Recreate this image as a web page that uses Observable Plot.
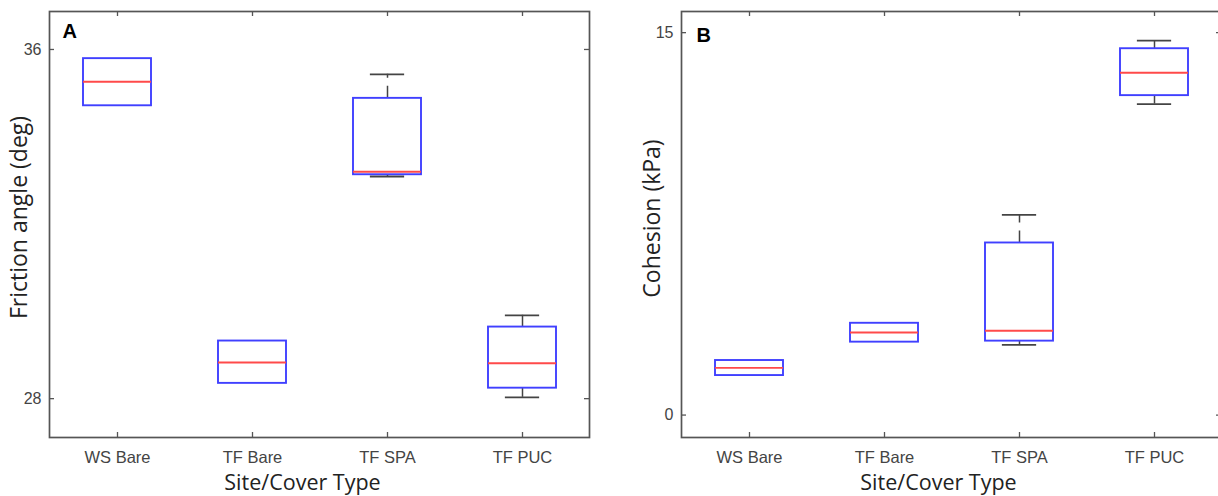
<!DOCTYPE html>
<html><head><meta charset="utf-8">
<script src="https://cdn.jsdelivr.net/npm/d3@7"></script>
<script src="https://cdn.jsdelivr.net/npm/@observablehq/plot@0.6"></script>
<style>
html,body{margin:0;padding:0;background:#fff;overflow:hidden;width:1218px;height:496px}
#wrap{position:relative;width:1218px;height:496px;overflow:hidden;background:#fff}
#a{position:absolute;left:0;top:0;width:609px}
#b{position:absolute;left:609px;top:0;width:620px}
#wrap svg{max-width:none !important}
</style></head><body><div id="wrap"><div id="a"></div><div id="b"></div></div>
<script>
const categories = ["WS Bare", "TF Bare", "TF SPA", "TF PUC"];

// Panel A: friction angle (deg)
const frictionLow    = [34.71, 28.35, 33.09, 28.03];
const frictionQ1     = [34.71, 28.35, 33.13, 28.24];
const frictionMedian = [35.26, 28.83, 33.20, 28.81];
const frictionQ3     = [35.79, 29.32, 34.88, 29.64];
const frictionHigh   = [35.79, 29.32, 35.43, 29.91];
const frictionTicks  = [28, 36];

// Panel B: cohesion (kPa)
const cohesionLow    = [1.55, 2.86, 2.75, 12.20];
const cohesionQ1     = [1.55, 2.86, 2.90, 12.53];
const cohesionMedian = [1.85, 3.24, 3.31, 13.43];
const cohesionQ3     = [2.14, 3.60, 6.75, 14.37];
const cohesionHigh   = [2.14, 3.60, 7.85, 14.69];
const cohesionTicks  = [0, 15];

function rowsOf(low, q1, med, q3, high) {
  return categories.map((cat, i) => ({cat, low: low[i], q1: q1[i], median: med[i], q3: q3[i], high: high[i]}));
}

function panel({rows, yDomain, yTicks, letter, letterDx, letterDy, yLabel, yLabelSize, yLabelSpacing, width, marginLeft, marginRight, titleDx, yTitleDx, yTitleDy}) {
  const marginTop = 11, marginBottom = 59, height = 496;
  const plotH = height - marginTop - marginBottom;
  const plotW = width - marginLeft - marginRight;
  const tickLen = 5;
  const bw = plotW / categories.length * 0.5;
  const upper = rows.filter(d => d.high > d.q3);
  const lower = rows.filter(d => d.low < d.q1);
  const axisColor = "#555";
  const whisker = "#444";
  return Plot.plot({
    width, height, marginTop, marginBottom, marginLeft, marginRight,
    style: {background: "white", fontFamily: "Liberation Sans", fontSize: "16px", color: "#444"},
    x: {type: "band", domain: categories, paddingInner: 0.5, paddingOuter: 0.25},
    y: {domain: yDomain},
    marks: [
      Plot.axisX({tickSize: 0, tickPadding: 14, label: null, fontSize: 16.5}),
      Plot.axisY({ticks: yTicks, tickSize: 0, tickPadding: 8, label: null, fontSize: 16, tickFormat: d => String(d)}),
      // inward ticks on all four sides
      Plot.tickX(categories, {x: d => d, insetTop: plotH - tickLen, stroke: axisColor, strokeWidth: 1.3}),
      Plot.tickX(categories, {x: d => d, insetBottom: plotH - tickLen, stroke: axisColor, strokeWidth: 1.3}),
      Plot.tickY(yTicks, {y: d => d, insetRight: plotW - tickLen, stroke: axisColor, strokeWidth: 1.3}),
      Plot.tickY(yTicks, {y: d => d, insetLeft: plotW - tickLen, stroke: axisColor, strokeWidth: 1.3}),
      // whiskers
      Plot.ruleX(upper, {x: "cat", y1: "q3", y2: "high", stroke: whisker, strokeWidth: 1.5, strokeDasharray: "12,8"}),
      Plot.ruleX(lower, {x: "cat", y1: "q1", y2: "low", stroke: whisker, strokeWidth: 1.5, strokeDasharray: "12,8"}),
      Plot.tickY(upper, {x: "cat", y: "high", stroke: whisker, strokeWidth: 1.8, insetLeft: bw / 4, insetRight: bw / 4}),
      Plot.tickY(lower, {x: "cat", y: "low", stroke: whisker, strokeWidth: 1.8, insetLeft: bw / 4, insetRight: bw / 4}),
      // boxes
      Plot.barY(rows, {x: "cat", y1: "q1", y2: "q3", fill: "none", stroke: "#4040ff", strokeWidth: 1.9}),
      Plot.tickY(rows, {x: "cat", y: "median", stroke: "#ff4a4a", strokeWidth: 1.9}),
      Plot.frame({stroke: axisColor, strokeWidth: 1.7}),
      // panel letter
      Plot.text([letter], {text: d => d, frameAnchor: "top-left", dx: letterDx, dy: letterDy, textAnchor: "start", lineAnchor: "top", fontSize: 20, fontWeight: "bold", fill: "#000"}),
      // axis titles
      Plot.text(["Site/Cover Type"], {text: d => d, frameAnchor: "bottom", dx: titleDx, dy: 46, textAnchor: "middle", lineAnchor: "middle", fontSize: 21.5, fontFamily: "Open Sans", fill: "#222"}),
      Plot.text([yLabel], {text: d => d, frameAnchor: "left", rotate: -90, dx: yTitleDx, dy: yTitleDy, textAnchor: "middle", lineAnchor: "middle", fontSize: yLabelSize, fontFamily: "Open Sans", fill: "#222", letterSpacing: yLabelSpacing})
    ]
  });
}

document.getElementById("a").append(panel({
  rows: rowsOf(frictionLow, frictionQ1, frictionMedian, frictionQ3, frictionHigh),
  yDomain: [27.11, 36.87], yTicks: frictionTicks,
  letter: "A", letterDx: 13, letterDy: 12,
  yLabel: "Friction angle (deg)", yLabelSize: 23, yLabelSpacing: "1px",
  width: 609, marginLeft: 49, marginRight: 20,
  titleDx: -17, yTitleDx: -30, yTitleDy: -7
}));

document.getElementById("b").append(panel({
  rows: rowsOf(cohesionLow, cohesionQ1, cohesionMedian, cohesionQ3, cohesionHigh),
  yDomain: [-0.88, 15.83], yTicks: cohesionTicks,
  letter: "B", letterDx: 15, letterDy: 16,
  yLabel: "Cohesion (kPa)", yLabelSize: 23, yLabelSpacing: "0.3px",
  width: 620, marginLeft: 72, marginRight: 8,
  titleDx: -13, yTitleDx: -29, yTitleDy: -6
}));
</script>
</body></html>
